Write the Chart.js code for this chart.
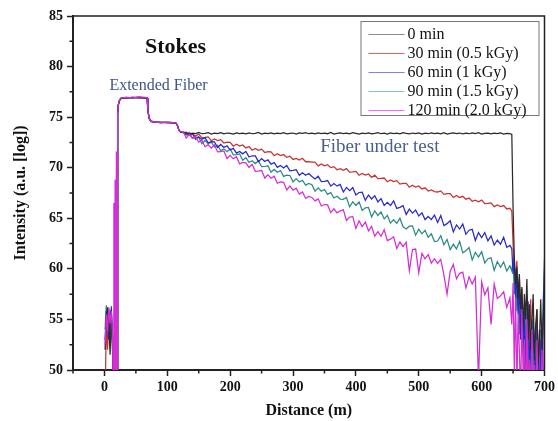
<!DOCTYPE html>
<html>
<head>
<meta charset="utf-8">
<script src="https://cdn.jsdelivr.net/npm/chart.js@4.4.1/dist/chart.umd.min.js"></script>
<style>
  html, body { margin: 0; padding: 0; background: #fff; }
</style>
</head>
<body>
<canvas id="chart" width="558" height="421"></canvas>
<script>
// Distance along the fiber (m), shared by all traces
var distance = [
  1, 3, 5, 7, 9, 11, 13, 14, 15, 16, 17, 18, 19, 20, 21, 22, 24, 27, 35, 45, 55, 65,
  68, 69, 71, 74, 80, 90, 100, 110, 114, 116, 118, 120, 123, 126,
  130, 135, 140, 145, 150, 155, 160, 165, 170, 175,
  180, 185, 190, 195, 200, 205, 210, 215, 220, 225,
  230, 235, 240, 245, 250, 255, 260, 265, 270, 275,
  280, 285, 290, 295, 300, 305, 310, 315, 320, 325,
  330, 335, 340, 345, 350, 355, 360, 365, 370, 375,
  380, 385, 390, 395, 400, 405, 410, 415, 420, 425,
  430, 435, 440, 445, 450, 455, 460, 465, 470, 475,
  480, 485, 490, 495, 500, 505, 510, 515, 520, 525,
  530, 535, 540, 545, 550, 555, 560, 565, 570, 575,
  580, 585, 590, 595, 600, 605, 610, 615, 620, 625,
  630, 635, 640, 645,
  648, 650, 652, 654, 656, 658, 660, 662, 664, 666,
  668, 670, 672, 674, 676, 678, 680, 682, 684, 686,
  688, 690, 692, 694, 696, 698, 700
];

var min0 = [
  52.0, 55.2, 56.2, 54.5, 51.5, 55.6, 52.0, 46, 46, 46, 46, 46, 46, 46, 75.3,
  76.2, 76.6, 76.85, 76.9, 76.95, 76.9, 76.9,
  76.85, 75.7, 74.9, 74.55, 74.5, 74.45, 74.45, 74.4, 74.4, 74.2, 73.8, 73.55, 73.5, 73.45,
  73.45, 73.35, 73.42, 73.38, 73.48, 73.36, 73.40, 73.46, 73.33, 73.41,
  73.37, 73.47, 73.34, 73.43, 73.39, 73.32, 73.45, 73.38, 73.42, 73.35,
  73.44, 73.36, 73.40, 73.48, 73.33, 73.41, 73.37, 73.45, 73.34, 73.42,
  73.38, 73.46, 73.35, 73.40, 73.43, 73.32, 73.44, 73.39, 73.47, 73.36,
  73.41, 73.34, 73.45, 73.38, 73.42, 73.36, 73.48, 73.33, 73.40, 73.44,
  73.37, 73.43, 73.35, 73.46, 73.39, 73.32, 73.42, 73.38, 73.45, 73.34,
  73.40, 73.47, 73.36, 73.41, 73.33, 73.44, 73.38, 73.42, 73.35, 73.46,
  73.39, 73.34, 73.43, 73.37, 73.45, 73.32, 73.41, 73.36, 73.44, 73.38,
  73.42, 73.35, 73.47, 73.33, 73.40, 73.45, 73.37, 73.43, 73.34, 73.41,
  73.36, 73.44, 73.38, 73.46, 73.32, 73.40, 73.43, 73.35, 73.42, 73.37,
  73.45, 73.33, 73.40, 73.36,
  73.3, 66, 61, 58.5, 60.2, 57, 59.5, 56, 58.2, 54,
  57.5, 55, 59, 53, 56.5, 52, 55, 57.5, 51, 54.5,
  56, 50.5, 53, 57, 52, 55, 57.8
];

var min30 = [
  47, 54.5, 52.0, 55.2, 53.5, 55.0, 52.5, 46, 46, 46, 64.2, 46, 46, 46, 75.4,
  76.1, 76.7, 76.9, 76.9, 76.95, 76.95, 76.9,
  76.9, 75.8, 74.85, 74.6, 74.5, 74.5, 74.45, 74.45, 74.35, 74.2, 73.8, 73.6, 73.5, 73.5,
  73.52, 73.21, 73.32, 73.15, 73.32, 72.98, 72.99, 73.04, 72.67, 72.84,
  72.68, 72.78, 72.44, 72.52, 72.51, 72.13, 72.33, 72.14, 72.25, 71.96,
  72.10, 71.73, 71.90, 71.73, 71.84, 71.50, 71.58, 71.56, 71.19, 71.39,
  71.20, 71.30, 71.02, 71.13, 70.82, 70.92, 70.76, 70.93, 70.59, 70.60,
  70.56, 70.55, 70.18, 70.37, 70.18, 70.29, 70.01, 70.11, 69.80, 69.91,
  69.75, 69.91, 69.57, 69.59, 69.64, 69.26, 69.43, 69.27, 69.38, 69.03,
  69.26, 68.92, 68.94, 68.98, 68.61, 68.78, 68.62, 68.72, 68.38, 68.46,
  68.45, 68.07, 68.27, 68.08, 68.19, 67.90, 68.01, 67.70, 67.81, 67.64,
  67.60, 67.71, 67.37, 67.44, 67.43, 67.06, 67.26, 67.06, 67.17, 66.89,
  67.00, 66.68, 66.79, 66.63, 66.80, 66.45, 66.47, 66.52, 66.15, 66.31,
  66.15, 66.26, 65.92, 65.99,
  65.7, 62.5, 60, 58.2, 60.8, 57, 59.2, 55.5, 58, 53,
  56.5, 52, 55, 49, 54, 57, 51, 55.5, 48, 53,
  56, 50.5, 54, 47, 52.5, 55, 58.6
];

var min60 = [
  53.0, 55.8, 54.0, 53.0, 55.5, 56.0, 52.8, 46, 46, 46, 46, 46, 46, 46, 75.3,
  76.2, 76.7, 76.9, 76.9, 76.9, 76.95, 76.9,
  76.9, 75.7, 74.9, 74.6, 74.5, 74.45, 74.5, 74.45, 74.4, 74.2, 73.8, 73.6, 73.5, 73.5,
  73.25, 73.28, 73.36, 72.80, 73.05, 72.80, 72.98, 72.46, 72.58, 72.56,
  72.00, 72.30, 72.01, 72.17, 71.75, 71.92, 71.44, 71.61, 71.37, 71.62,
  71.06, 71.18, 71.17, 70.60, 70.90, 70.61, 70.78, 70.35, 70.52, 70.04,
  70.22, 69.97, 70.22, 69.70, 69.74, 69.81, 69.25, 69.50, 69.26, 69.43,
  69.14, 68.89, 69.15, 68.63, 68.66, 68.73, 68.18, 68.43, 68.18, 68.35,
  67.60, 68.05, 67.73, 68.04, 67.31, 67.55, 67.58, 66.77, 67.30, 66.91,
  67.22, 66.62, 66.94, 66.27, 66.58, 66.26, 66.72, 65.98, 66.08, 66.25,
  65.38, 65.90, 65.51, 65.82, 65.23, 65.54, 64.87, 65.18, 64.87, 65.32,
  64.59, 65.28, 64.28, 64.47, 64.76, 63.65, 64.35, 63.94, 64.43, 63.42,
  63.82, 63.91, 62.80, 63.59, 63.09, 63.58, 62.77, 63.26, 62.36, 62.85,
  62.44, 63.13, 62.13, 62.32,
  62.0, 59.5, 61.2, 57, 59.8, 55.5, 58.6, 53, 57, 51.5,
  55.8, 49, 54, 56.8, 50, 53.5, 47, 55, 52, 48,
  54.5, 50.5, 47, 53, 49, 55.5, 61
];

var min90 = [
  54.0, 56.4, 55.0, 56.0, 53.5, 56.3, 51.2, 46, 46, 56, 46, 46, 46, 46, 75.4,
  76.2, 76.7, 76.9, 76.95, 76.9, 76.95, 76.9,
  76.9, 75.8, 74.9, 74.6, 74.5, 74.5, 74.45, 74.45, 74.4, 74.2, 73.8, 73.6, 73.55, 73.5,
  73.32, 73.49, 72.91, 73.03, 73.00, 72.37, 72.69, 72.36, 72.53, 72.05,
  72.22, 71.69, 71.86, 71.58, 71.85, 71.27, 71.29, 71.36, 70.73, 71.00,
  70.52, 70.69, 70.41, 70.68, 70.10, 70.12, 70.19, 69.56, 69.83, 69.55,
  69.72, 69.14, 69.26, 69.23, 68.60, 68.92, 68.59, 68.76, 68.28, 68.45,
  68.32, 67.69, 68.01, 67.68, 67.85, 67.37, 67.54, 67.01, 67.18, 66.90,
  66.87, 67.06, 66.13, 66.64, 66.27, 66.62, 65.77, 66.04, 66.07, 65.14,
  65.73, 65.28, 65.63, 64.94, 65.29, 64.52, 64.87, 64.50, 65.01, 64.16,
  63.95, 64.22, 64.25, 63.32, 63.91, 63.46, 63.81, 63.12, 63.47, 62.70,
  62.75, 63.28, 62.38, 62.91, 61.90, 62.43, 61.97, 62.72, 61.60, 61.80,
  62.11, 60.88, 61.63, 61.17, 61.70, 60.58, 61.00, 61.09, 59.86, 60.72,
  60.15, 60.68, 59.78, 60.31,
  59.8, 60.8, 57.5, 60, 55.8, 58.5, 53.5, 57.2, 51.8, 56,
  49.5, 54.5, 57.5, 50.5, 53, 48, 55, 51.5, 47, 53.8,
  49, 52, 47, 54, 50, 57, 60
];

var min120 = [
  52.5, 55.5, 53.8, 56.2, 54.6, 55.8, 53.2, 46, 66.5, 46, 68.8, 46, 71.6, 46, 75.4,
  76.2, 76.7, 76.9, 76.95, 76.9, 77.0, 76.95,
  76.9, 75.8, 74.9, 74.6, 74.5, 74.45, 74.5, 74.45, 74.4, 74.2, 73.8, 73.6, 73.55, 73.5,
  72.92, 73.30, 72.90, 73.10, 72.52, 72.72, 72.08, 72.28, 71.94, 72.26,
  71.56, 71.58, 71.66, 70.90, 71.22, 70.88, 71.08, 70.38, 70.52, 70.48,
  70.02, 70.34, 69.64, 69.66, 69.74, 68.98, 69.30, 68.96, 69.16, 68.46,
  68.60, 68.56, 67.80, 68.18, 67.78, 67.98, 67.40, 67.60, 66.96, 67.16,
  67.06, 66.72, 66.92, 66.22, 66.36, 66.32, 65.56, 65.94, 65.54, 65.74,
  65.84, 64.78, 65.12, 65.16, 64.00, 64.74, 64.18, 64.62, 63.76, 64.20,
  63.24, 63.68, 63.22, 63.86, 62.80, 62.94, 63.18, 62.02, 62.66, 62.20,
  62.64, 59.80, 61.92, 61.96, 59.60, 61.54, 60.98, 61.42, 60.56, 61.00,
  60.54, 60.94, 59.38, 57.50, 59.76, 60.44, 59.02, 59.56, 59.68, 58.12,
  59.22, 58.50, 59.18, 49.00, 58.72, 57.44, 58.12, 54.50, 58.50, 57.08,
  57.34, 57.74, 56.18, 57.14,
  54.5, 58.6, 50, 57.2, 48, 55.5, 52, 47, 56, 49.5,
  53, 46, 55, 48, 51, 46, 54, 47, 50.5, 46,
  53, 47, 49, 46, 52, 47, 55
];

var seriesNames = ['0 min', '30 min (0.5 kGy)', '60 min (1 kGy)', '90 min (1.5 kGy)', '120 min (2.0 kGy)'];
var xTickLabels = [0, 100, 200, 300, 400, 500, 600, 700];
var xMinorTicks = [-50, 50, 150, 250, 350, 450, 550, 650];
var yTickLabels = [50, 55, 60, 65, 70, 75, 80, 85];
var yMinorTicks = [52.5, 57.5, 62.5, 67.5, 72.5, 77.5, 82.5];

var SERIF = "'Liberation Serif', 'Times New Roman', serif";
var lineColors = ['#2a2a2a', '#c83232', '#2a2ac8', '#2a8c84', '#d42ed4'];
var legendColors = ['#8c8c8c', '#ee5c5c', '#8080ee', '#80c4c4', '#ff66ff'];

[min0, min30, min60, min90, min120].forEach(function(arr, i) {
  if (arr.length !== distance.length) throw new Error('length mismatch in series ' + i + ': ' + arr.length);
});

function points(values) {
  return distance.map(function(d, i) { return { x: d, y: values[i] }; });
}

var allSeries = [min0, min30, min60, min90, min120];
// first dataset is drawn on top, so put 120 min first
var drawOrder = [4, 0, 2, 3, 1];
var datasets = drawOrder.map(function(k) {
  return {
    label: seriesNames[k],
    data: points(allSeries[k]),
    borderColor: lineColors[k],
    borderWidth: 1.25,
    pointRadius: 0,
    tension: 0,
    fill: false
  };
});

var decor = {
  id: 'decor',
  afterDraw: function(chart) {
    var ctx = chart.ctx, a = chart.chartArea;
    var xs = chart.scales.x, ys = chart.scales.y;
    ctx.save();
    // frame top and right
    ctx.strokeStyle = '#222';
    ctx.lineWidth = 1.5;
    ctx.beginPath();
    ctx.moveTo(a.left, a.top); ctx.lineTo(a.right, a.top); ctx.lineTo(a.right, a.bottom);
    ctx.stroke();
    // minor ticks
    ctx.beginPath();
    xMinorTicks.forEach(function(v) {
      var px = xs.getPixelForValue(v);
      ctx.moveTo(px, a.bottom); ctx.lineTo(px, a.bottom + 3.5);
    });
    yMinorTicks.forEach(function(v) {
      var py = ys.getPixelForValue(v);
      ctx.moveTo(a.left, py); ctx.lineTo(a.left - 3.5, py);
    });
    ctx.stroke();

    // annotations
    ctx.textAlign = 'center';
    ctx.textBaseline = 'middle';
    ctx.fillStyle = '#111';
    ctx.font = 'bold 22px ' + SERIF;
    ctx.fillText('Stokes', xs.getPixelForValue(113), ys.getPixelForValue(81.9));
    ctx.fillStyle = '#3d5588';
    ctx.font = '16px ' + SERIF;
    ctx.fillText('Extended Fiber', xs.getPixelForValue(86), ys.getPixelForValue(78.1));
    ctx.fillStyle = '#4a5f8f';
    ctx.font = '19px ' + SERIF;
    ctx.fillText('Fiber under test', xs.getPixelForValue(438), ys.getPixelForValue(72.0));

    // legend box
    var bx = a.right - 184, by = a.top + 5, bw = 178, bh = 94;
    ctx.fillStyle = '#fff';
    ctx.fillRect(bx, by, bw, bh);
    ctx.strokeStyle = '#777';
    ctx.lineWidth = 1;
    ctx.strokeRect(bx + 0.5, by + 0.5, bw, bh);
    ctx.font = '16px ' + SERIF;
    ctx.textAlign = 'left';
    seriesNames.forEach(function(name, i) {
      var ly = by + 13 + i * 19;
      ctx.strokeStyle = legendColors[i];
      ctx.lineWidth = 1.2;
      ctx.beginPath();
      ctx.moveTo(bx + 8, ly + 0.5); ctx.lineTo(bx + 44, ly + 0.5);
      ctx.stroke();
      ctx.fillStyle = '#111';
      ctx.fillText(name, bx + 47, ly + 1);
    });
    ctx.restore();
  }
};

new Chart(document.getElementById('chart'), {
  type: 'line',
  data: { datasets: datasets },
  options: {
    responsive: false,
    animation: false,
    devicePixelRatio: 1,
    layout: { padding: { left: 0, right: 10, top: 16, bottom: 0 } },
    plugins: { legend: { display: false }, tooltip: { enabled: false } },
    scales: {
      x: {
        type: 'linear',
        min: -50,
        max: 700,
        afterBuildTicks: function(s) { s.ticks = xTickLabels.map(function(v) { return { value: v }; }); },
        afterFit: function(s) { s.height = 51; },
        ticks: { color: '#111', padding: 3, maxRotation: 0, autoSkip: false,
                 font: { family: SERIF, size: 14, weight: 'bold' } },
        grid: { drawOnChartArea: false, drawTicks: true, tickLength: 6, color: '#222', tickWidth: 1.5 },
        border: { display: true, color: '#222', width: 2 },
        title: { display: true, text: 'Distance (m)', color: '#111',
                 font: { family: SERIF, size: 16, weight: 'bold' }, padding: { top: 1, bottom: 1 } }
      },
      y: {
        type: 'linear',
        min: 50,
        max: 85,
        afterBuildTicks: function(s) { s.ticks = yTickLabels.map(function(v) { return { value: v }; }); },
        afterFit: function(s) { s.width = 73; },
        ticks: { color: '#111', padding: 4,
                 font: { family: SERIF, size: 14, weight: 'bold' } },
        grid: { drawOnChartArea: false, drawTicks: true, tickLength: 6, color: '#222', tickWidth: 1.5 },
        border: { display: true, color: '#222', width: 2 },
        title: { display: true, text: 'Intensity (a.u. [log])', color: '#111',
                 font: { family: SERIF, size: 16, weight: 'bold' }, padding: { top: 11, bottom: 11 } }
      }
    }
  },
  plugins: [decor]
});
</script>
</body>
</html>
